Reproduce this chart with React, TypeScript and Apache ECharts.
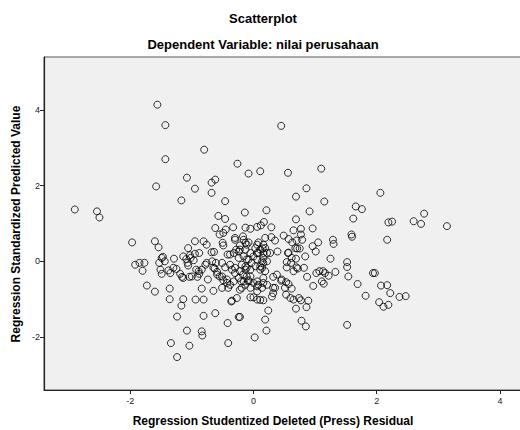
import React, { useEffect, useRef } from "react";
import * as echarts from "echarts";

const titleText = "Scatterplot";
const subtitleText = "Dependent Variable: nilai perusahaan";
const xAxisTitle = "Regression Studentized Deleted (Press) Residual";
const yAxisTitle = "Regression Standardized Predicted Value";
const xTicks = [-2, 0, 2, 4];
const yTicks = [-2, 0, 2, 4];

// [studentized deleted residual, standardized predicted value]
const points: [number, number][] = [
  [-2.9, 1.37], [-2.54, 1.32], [-2.5, 1.16], [-1.97, 0.5], [-1.56, 4.14], [-1.43, 3.6],
  [-1.43, 2.7], [-0.8, 2.95], [-1.08, 2.21], [-1.58, 1.98], [-0.95, 1.92], [-0.68, 2.08],
  [-0.62, 2.16], [-0.68, 1.81], [-1.17, 1.61], [0.45, 3.58], [-0.26, 2.58], [-0.08, 2.32],
  [0.11, 2.38], [0.56, 2.34], [1.1, 2.45], [-0.46, 1.59], [0.69, 1.71], [0.86, 1.93],
  [1.15, 1.58], [2.06, 1.81], [1.66, 1.45], [1.76, 1.38], [1.62, 1.13], [2.19, 1.03],
  [2.25, 1.05], [2.6, 1.06], [2.72, 0.99], [2.77, 1.26], [3.14, 0.93], [2.17, 0.57],
  [1.94, -0.31], [1.97, -0.31], [2.07, -0.64], [2.17, -0.63], [2.22, -0.84], [2.37, -0.94],
  [2.47, -0.92], [2.04, -1.08], [2.11, -1.2], [2.19, -1.15], [1.82, -0.91], [1.52, -1.68],
  [-0.57, 1.2], [-0.46, 1.12], [-0.14, 1.29], [0.21, 1.35], [0.69, 1.11], [0.91, 1.32],
  [0.17, 1.04], [0.12, 0.95], [0.06, 0.91], [-0.62, 0.88], [-0.33, 0.9], [-0.13, 0.89],
  [-0.05, 0.86], [0.29, 0.9], [0.65, 0.82], [0.77, 0.86], [0.96, 0.87], [0.77, 0.71],
  [-0.55, 0.71], [-0.49, 0.75], [-0.45, 0.84], [-0.5, 0.49], [-0.49, 0.42], [-0.3, 0.57],
  [-0.17, 0.66], [-0.13, 0.49], [-0.08, 0.5], [-0.22, 0.42], [-0.32, 0.22], [-0.24, 0.26],
  [-0.16, 0.13], [-0.08, 0.05], [0.0, 0.13], [0.06, 0.22], [0.08, 0.5], [0.15, 0.34],
  [0.22, 0.22], [0.27, 0.22], [0.29, 0.64], [0.35, 0.55], [0.49, 0.68], [0.57, 0.59],
  [0.63, 0.5], [0.7, 0.55], [0.79, 0.57], [0.96, 0.4], [1.05, 0.5], [1.01, 0.26],
  [1.29, 0.57], [1.3, 0.46], [1.59, 0.71], [1.6, 0.65], [0.39, 0.26], [0.57, 0.23],
  [0.71, 0.34], [0.75, 0.34], [0.84, 0.13], [0.54, -0.02], [0.61, -0.04], [1.25, 0.07],
  [1.52, -0.02], [1.52, -0.15], [0.82, -0.17], [0.72, -0.19], [0.65, -0.26], [1.33, -0.28],
  [1.02, -0.31], [1.07, -0.26], [1.13, -0.26], [1.16, -0.31], [1.22, -0.38], [1.11, -0.53],
  [1.14, -0.59], [1.54, -0.4], [1.69, -0.6], [0.97, -0.65], [0.87, -0.41], [0.32, -0.41],
  [0.38, -0.35], [0.45, -0.51], [0.57, -0.6], [0.62, -0.72], [0.53, -0.88], [0.6, -0.97],
  [0.65, -1.01], [0.74, -0.97], [0.77, -1.03], [0.89, -1.04], [0.86, -1.21], [0.69, -1.25],
  [0.78, -1.57], [0.85, -1.72], [0.19, -1.54], [0.21, -1.83], [0.02, -2.01], [0.24, -1.3],
  [0.3, -0.93], [0.32, -0.84], [0.35, -0.7], [0.16, -1.03], [0.11, -1.02], [-0.05, -0.95],
  [0.0, -0.95], [0.08, -0.62], [0.16, -0.57], [0.14, -0.7], [-0.19, -0.7], [-0.13, -0.62],
  [-0.08, -0.53], [-0.17, -0.35], [-0.11, -0.4], [-0.22, -1.47], [-0.16, 0.57], [-0.13, 0.31],
  [-0.05, 0.22], [0.03, 0.35], [0.11, 0.31], [0.16, 0.22], [-0.11, 0.05], [-0.03, -0.04],
  [0.06, 0.05], [0.14, 0.0], [-0.19, -0.09], [0.03, -0.13], [-0.13, -0.22], [0.11, -0.22],
  [0.19, -0.26], [-1.6, 0.53], [-1.54, 0.37], [-1.92, -0.09], [-1.85, -0.04], [-1.77, -0.04],
  [-1.8, -0.25], [-1.73, -0.64], [-1.6, -0.8], [-1.53, -0.04], [-1.47, 0.12], [-1.44, 0.0],
  [-1.51, -0.22], [-1.49, -0.33], [-1.38, -0.24], [-1.35, -0.31], [-1.29, 0.07], [-1.3, -0.17],
  [-1.25, -0.2], [-1.19, -0.33], [-1.16, -0.41], [-1.09, 0.06], [-1.07, -0.04], [-1.02, 0.09],
  [-0.97, 0.03], [-0.95, 0.2], [-1.06, -0.11], [-1.04, -0.41], [-1.06, 0.35], [-0.95, 0.53],
  [-0.81, 0.53], [-0.88, 0.22], [-0.76, 0.44], [-0.93, -0.22], [-0.88, -0.33], [-0.91, -0.41],
  [-0.84, -0.22], [-0.78, -0.09], [-0.76, -0.04], [-0.74, -0.48], [-0.68, 0.24], [-0.64, 0.25],
  [-0.67, 0.0], [-0.61, -0.04], [-0.63, -0.19], [-0.59, -0.28], [-0.55, -0.4], [-0.49, -0.5],
  [-0.43, -0.57], [-0.51, -0.7], [-0.41, -0.7], [-0.65, -0.78], [-0.84, -0.72], [-1.36, -0.72],
  [-1.36, -1.0], [-1.14, -1.0], [-1.17, -1.17], [-0.94, -1.01], [-0.81, -1.01], [-1.24, -1.46],
  [-0.81, -1.44], [-0.62, -1.37], [-1.08, -1.83], [-0.84, -1.85], [-0.83, -1.96], [-0.42, -1.63],
  [-0.24, -1.47], [-0.27, -0.97], [-0.35, -1.04], [-0.36, -1.06], [-0.2, -0.53], [-0.08, -0.5],
  [0.0, -0.57], [0.06, -0.66], [0.06, -1.01], [-0.41, -2.16], [-1.34, -2.16], [-1.04, -2.23],
  [-1.24, -2.53], [-0.35, -0.22], [-0.3, -0.31], [-0.22, -0.26], [-0.11, -0.17], [-0.32, -0.53],
  [-0.24, -0.44], [-0.16, -0.53], [-0.05, -0.4], [0.06, -0.53], [0.16, -0.44], [-0.38, -0.62],
  [-0.22, -0.75], [-0.05, -0.7], [0.06, -0.79], [-0.65, -0.17], [-0.51, -0.04], [-0.46, -0.16],
  [-0.38, -0.09], [-0.3, -0.17], [-0.13, -0.13], [-0.05, -0.22], [0.11, -0.13], [-0.59, -0.35],
  [-0.51, -0.4], [-0.43, -0.48], [-0.42, 0.18], [-0.38, 0.18], [-0.28, 0.31], [-0.22, 0.31],
  [-0.24, 0.09], [0.08, 0.22], [0.16, 0.09], [0.22, 0.0], [-0.3, 0.62], [-0.11, 0.44],
  [0.06, 0.44], [0.19, 0.62], [-1.49, 0.09], [-1.14, 0.13], [-1.03, 0.16], [-1.14, -0.44],
  [-1.0, -0.4], [-0.89, -0.26], [0.16, 0.44], [0.19, 0.35], [0.56, 0.22], [0.62, 0.09],
  [0.69, 0.07], [0.54, -0.16], [0.7, -0.16], [0.46, -0.48], [0.51, -0.7], [0.53, -0.55],
  [0.32, -0.7], [0.22, -0.62], [0.14, -0.17], [0.16, -0.04], [0.68, 0.35],
];

const FONT = "'Liberation Sans', Arial, Helvetica, sans-serif";

export default function App() {
  const ref = useRef<HTMLDivElement>(null);
  useEffect(() => {
    const chart = echarts.init(ref.current!, null, { renderer: "svg" });
    chart.setOption({
      animation: false,
      backgroundColor: "#ffffff",
      grid: {
        left: 44,
        top: 57,
        right: -60,
        bottom: 40,
        show: true,
        backgroundColor: "#f0f0f0",
        borderColor: "#555555",
        borderWidth: 1,
        containLabel: false,
        outerBoundsMode: "none",
      },
      xAxis: {
        type: "value",
        min: -3.4,
        max: 5.3,
        axisLine: { show: true, onZero: false, lineStyle: { color: "#222", width: 1.2 } },
        axisTick: { show: true, customValues: xTicks, length: 4, lineStyle: { color: "#222" } },
        axisLabel: { customValues: xTicks, fontSize: 9, color: "#222", margin: 6, fontFamily: FONT },
        splitLine: { show: false },
      },
      yAxis: {
        type: "value",
        min: -3.4,
        max: 5.4,
        axisLine: { show: true, onZero: false, lineStyle: { color: "#222", width: 1.2 } },
        axisTick: { show: true, customValues: yTicks, length: 4, lineStyle: { color: "#222" } },
        axisLabel: { customValues: yTicks, fontSize: 9, color: "#222", margin: 4, fontFamily: FONT },
        splitLine: { show: false },
      },
      series: [
        {
          type: "scatter",
          data: points,
          symbol: "circle",
          symbolSize: 7,
          itemStyle: { color: "rgba(0,0,0,0)", borderColor: "#000", borderWidth: 1 },
          emphasis: { disabled: true },
        },
      ],
      graphic: [
        {
          type: "text",
          x: 263,
          y: 18,
          style: { text: titleText, font: `bold 13px ${FONT}`, fill: "#000", align: "center", verticalAlign: "middle" },
        },
        {
          type: "text",
          x: 263,
          y: 44,
          style: { text: subtitleText, font: `bold 13px ${FONT}`, fill: "#000", align: "center", verticalAlign: "middle" },
        },
        {
          type: "text",
          x: 273,
          y: 421,
          style: { text: xAxisTitle, font: `bold 12px ${FONT}`, fill: "#000", align: "center", verticalAlign: "middle" },
        },
        {
          type: "text",
          x: 16,
          y: 224,
          rotation: Math.PI / 2,
          style: { text: yAxisTitle, font: `bold 12px ${FONT}`, fill: "#000", align: "center", verticalAlign: "middle" },
        },
      ],
    });
    return () => chart.dispose();
  }, []);
  return <div ref={ref} style={{ position: "fixed", left: 0, top: 0, width: 520, height: 430 }} />;
}
